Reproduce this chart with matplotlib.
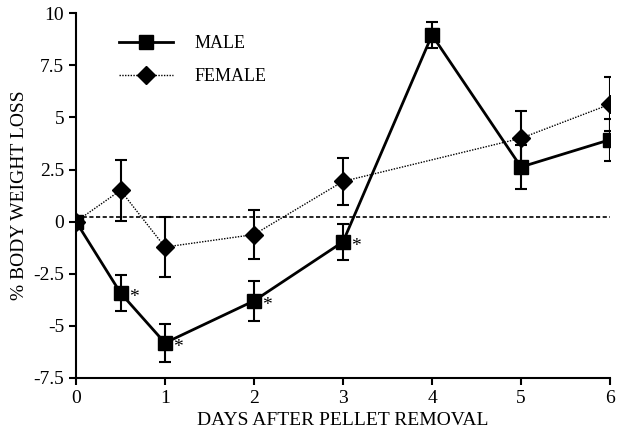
import numpy as np
import matplotlib
matplotlib.use("Agg")
import matplotlib.pyplot as plt
from matplotlib.lines import Line2D

# Donnees
days = [0, 0.5, 1, 2, 3, 4, 5, 6]
male = [0.0, -3.42, -5.82, -3.80, -0.97, 8.95, 2.62, 3.93]
male_err = [0.0, 0.85, 0.9, 0.95, 0.87, 0.62, 1.04, 1.0]
female_days = [0, 0.5, 1, 2, 3, 5, 6]
female = [0.0, 1.50, -1.22, -0.62, 1.93, 4.0, 5.63]
female_err = [0.0, 1.45, 1.45, 1.17, 1.14, 1.33, 1.3]
star_days = [0.5, 1, 2, 3]
star_vals = [-3.42, -5.82, -3.80, -0.97]
baseline = 0.2

yticks = [-7.5, -5, -2.5, 0, 2.5, 5, 7.5, 10]
ytick_labels = ["-7.5", "-5", "-2.5", "0", "2.5", "5", "7.5", "10"]

plt.rcParams['font.family'] = ['Liberation Serif', 'DejaVu Serif']

fig = plt.figure(figsize=(6.25, 4.38), dpi=100)
ax = fig.add_axes([0.1216, 0.137, 0.8544, 0.833])

# ligne de reference
ax.plot([0, 6.05], [baseline, baseline], color="black", lw=1.2, ls=(0, (2.5, 1.5)))

# femelles
ax.errorbar(female_days, female, yerr=female_err, color="black", lw=1.0,
            ls=(0, (1, 1)), marker="D", markersize=9, capsize=4,
            elinewidth=1.5, capthick=1.5)

# males
ax.errorbar(days, male, yerr=male_err, color="black", lw=2.0,
            ls="-", marker="s", markersize=10, capsize=4,
            elinewidth=1.5, capthick=1.5)

for d, v in zip(star_days, star_vals):
    ax.annotate("*", (d, v), xytext=(6, -3), textcoords="offset points",
                fontsize=14, ha="left", va="center")

ax.set_xlim(0, 6)
ax.set_ylim(-7.5, 10)
ax.set_xticks(range(7))
ax.set_yticks(yticks)
ax.set_yticklabels(ytick_labels)
ax.tick_params(direction="out", length=5, width=1.5, labelsize=14)
ax.spines["top"].set_visible(False)
ax.spines["right"].set_visible(False)
ax.spines["left"].set_linewidth(1.5)
ax.spines["bottom"].set_linewidth(1.5)
for s in ax.spines.values():
    s.set_clip_on(False)

ax.set_xlabel("DAYS AFTER PELLET REMOVAL", fontsize=14, labelpad=4)
ax.set_ylabel("% BODY WEIGHT LOSS", fontsize=14, labelpad=4)

handles = [
    Line2D([], [], color="black", lw=2.0, marker="s", markersize=10),
    Line2D([], [], color="black", lw=1.0, ls=(0, (1, 1)), marker="D", markersize=9),
]
ax.legend(handles, ["MALE", "FEMALE"], loc="upper left", bbox_to_anchor=(0.05, 0.985),
          frameon=False, fontsize=13, handlelength=3.0, labelspacing=0.9,
          handletextpad=1.2)

plt.savefig("out.png", dpi=100)
